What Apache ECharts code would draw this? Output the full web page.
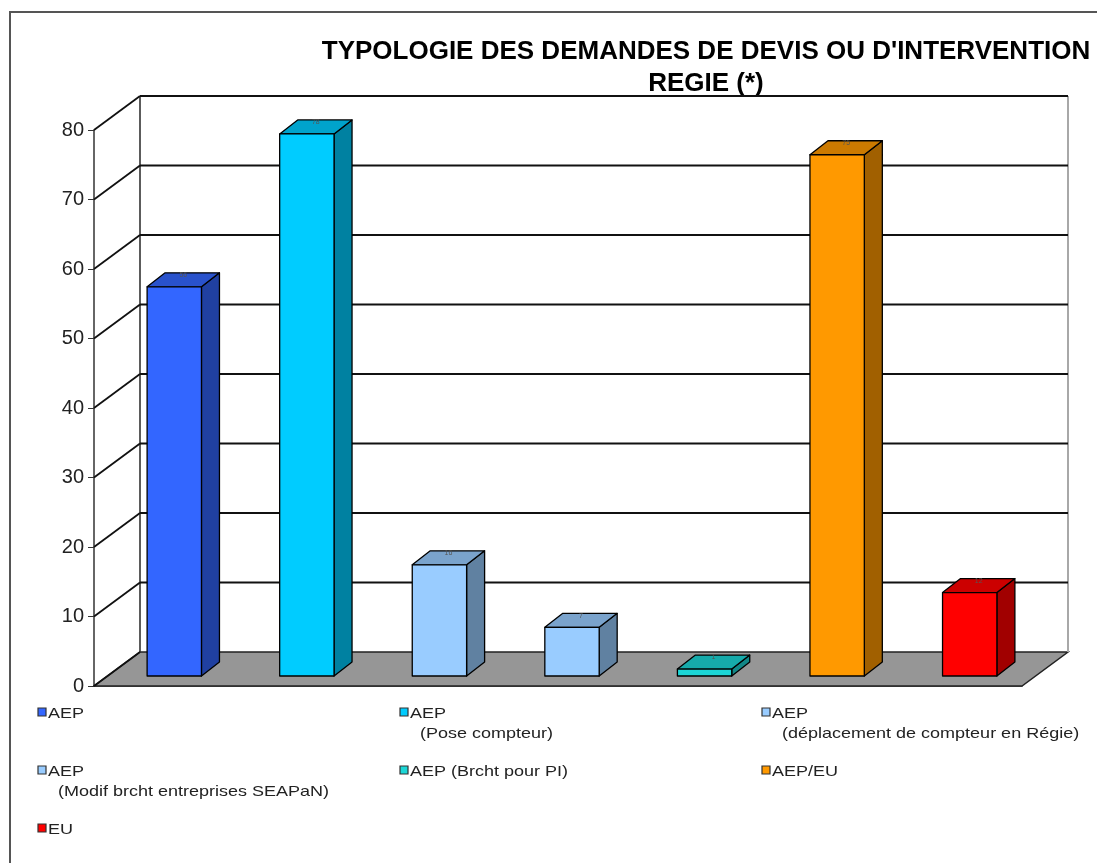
<!DOCTYPE html>
<html>
<head>
<meta charset="utf-8">
<script src="https://cdn.jsdelivr.net/npm/echarts@6/dist/echarts.min.js"></script>
<style>
  html, body { margin: 0; padding: 0; background: #fff; }
  #main { width: 1097px; height: 863px; }
</style>
</head>
<body>
<div id="main"></div>
<script>
// données du graphique
const categories = [
  'AEP',
  'AEP\n  (Pose compteur)',
  'AEP\n  (déplacement de compteur en Régie)',
  'AEP\n  (Modif brcht entreprises SEAPaN)',
  'AEP (Brcht pour PI)',
  'AEP/EU',
  'EU'
]
const values = [56, 78, 16, 7, 1, 75, 12]
const barColors = ['#3366FF', '#00CCFF', '#99CCFF', '#99CCFF', '#1CD6D6', '#FF9900', '#FF0000']
const yTicks = [0, 10, 20, 30, 40, 50, 60, 70, 80]
const titleText = "TYPOLOGIE DES DEMANDES DE DEVIS OU D'INTERVENTION\nREGIE (*)"

// effet 3D
const WALL = [46, -34]
const SHIFT = [14, -10]
const DEPTH = [18, -14]

function shade(hex, f) {
  let n = parseInt(hex.slice(1), 16)
  let r = Math.round(((n >> 16) & 255) * f)
  let g = Math.round(((n >> 8) & 255) * f)
  let b = Math.round((n & 255) * f)
  return 'rgb(' + r + ',' + g + ',' + b + ')'
}

let myChart = echarts.init(document.getElementById('main'))

function edges(api, v) {
  let bw = api.size([1, 0])[0]
  let xL = api.coord([0, v])[0] - bw / 2
  let xR = api.coord([categories.length - 1, v])[0] + bw / 2
  let y = api.coord([0, v])[1]
  return { xL: xL, xR: xR, y: y }
}

// sol + murs
function renderFloor(params, api) {
  let b = edges(api, yTicks[0])
  let t = edges(api, yTicks[yTicks.length - 1])
  return {
    type: 'group',
    children: [
      {
        type: 'polygon',
        shape: { points: [[b.xL, b.y], [b.xR, b.y], [b.xR + WALL[0], b.y + WALL[1]], [b.xL + WALL[0], b.y + WALL[1]]] },
        style: { fill: '#969696', stroke: '#222', lineWidth: 1.5 }
      },
      {
        type: 'line',
        shape: { x1: b.xL + WALL[0], y1: b.y + WALL[1], x2: t.xL + WALL[0], y2: t.y + WALL[1] },
        style: { stroke: '#333', lineWidth: 1.6 }
      },
      {
        type: 'line',
        shape: { x1: b.xR + WALL[0], y1: b.y + WALL[1], x2: t.xR + WALL[0], y2: t.y + WALL[1] },
        style: { stroke: '#a8a8a8', lineWidth: 2 }
      }
    ]
  }
}

// lignes de quadrillage (mur gauche + fond)
function renderGrid(params, api) {
  let v = api.value(0)
  let e = edges(api, v)
  let children = [{
    type: 'line',
    shape: { x1: e.xL, y1: e.y, x2: e.xL + WALL[0], y2: e.y + WALL[1] },
    style: { stroke: '#111', lineWidth: 1.8 }
  }]
  if (v > 0) {
    children.push({
      type: 'line',
      shape: { x1: e.xL + WALL[0], y1: e.y + WALL[1], x2: e.xR + WALL[0], y2: e.y + WALL[1] },
      style: { stroke: '#111', lineWidth: 1.8 }
    })
  }
  return { type: 'group', children: children }
}

// barres 3D
function renderBar(params, api) {
  let i = api.value(0)
  let v = api.value(1)
  let base = api.coord([i, 0])
  let top = api.coord([i, v])
  let w = api.size([1, 0])[0] * 0.41
  let cx = base[0] + SHIFT[0]
  let x0 = cx - w / 2, x1 = cx + w / 2
  let yb = base[1] + SHIFT[1], yt = top[1] + SHIFT[1]
  let c = barColors[i]
  let st = { stroke: '#000', lineWidth: 1.3, lineJoin: 'round' }
  return {
    type: 'group',
    children: [
      {
        type: 'polygon',
        shape: { points: [[x1, yt], [x1 + DEPTH[0], yt + DEPTH[1]], [x1 + DEPTH[0], yb + DEPTH[1]], [x1, yb]] },
        style: Object.assign({ fill: shade(c, 0.63) }, st)
      },
      {
        type: 'polygon',
        shape: { points: [[x0, yt], [x0 + DEPTH[0], yt + DEPTH[1]], [x1 + DEPTH[0], yt + DEPTH[1]], [x1, yt]] },
        style: Object.assign({ fill: shade(c, 0.8) }, st)
      },
      {
        type: 'rect',
        shape: { x: x0, y: yt, width: w, height: yb - yt },
        style: Object.assign({ fill: c }, st)
      },
      {
        type: 'text',
        x: cx + DEPTH[0] / 2,
        y: yt + DEPTH[1] / 2 - 1,
        style: { text: String(v), fontSize: 7, fill: '#555', align: 'center', verticalAlign: 'bottom', fontFamily: 'Liberation Sans' }
      }
    ]
  }
}

// légende
let legendItems = []
let colX = [38, 400, 762]
for (let i = 0; i < categories.length; i++) {
  let x = colX[i % 3]
  let y = 704 + Math.floor(i / 3) * 58
  legendItems.push({
    type: 'rect',
    shape: { x: x, y: y + 4, width: 8, height: 8 },
    style: { fill: barColors[i], stroke: '#333', lineWidth: 1.2 }
  })
  legendItems.push({
    type: 'text',
    x: x + 10,
    y: y,
    scaleX: 1.2,
    style: { text: categories[i], fontSize: 15, lineHeight: 20, fill: '#222', fontFamily: 'Liberation Sans' }
  })
}

let option = {
  animation: false,
  grid: { left: 94, right: 75, top: 130, bottom: 177 },
  xAxis: {
    type: 'category',
    data: categories,
    axisLine: { lineStyle: { color: '#333', width: 1.5 } },
    axisTick: { length: 6, lineStyle: { color: '#555' } },
    axisLabel: { show: false }
  },
  yAxis: {
    type: 'value',
    min: 0,
    max: 80,
    interval: 10,
    axisLine: { show: true, lineStyle: { color: '#333', width: 1.5 } },
    axisTick: { show: true, length: 6, lineStyle: { color: '#333' } },
    axisLabel: { fontSize: 20, color: '#222', margin: 10, fontFamily: 'Liberation Sans' },
    splitLine: { show: false }
  },
  graphic: [
    {
      type: 'text',
      x: 706,
      y: 36,
      style: { text: titleText, fontSize: 26, fontWeight: 'bold', lineHeight: 32, fill: '#000', align: 'center', fontFamily: 'Liberation Sans' }
    },
    {
      type: 'polyline',
      shape: { points: [[10, 863], [10, 12], [1097, 12]] },
      style: { stroke: '#555', lineWidth: 2, fill: null }
    }
  ].concat(legendItems),
  series: [
    { type: 'custom', renderItem: renderFloor, data: [[0]], z: 1, silent: true },
    { type: 'custom', renderItem: renderGrid, data: yTicks.map(v => [v]), encode: { y: 0 }, z: 2, silent: true },
    { type: 'custom', renderItem: renderBar, data: values.map((v, i) => [i, v]), encode: { x: 0, y: 1 }, z: 3 }
  ]
}
myChart.setOption(option)
</script>
</body>
</html>
